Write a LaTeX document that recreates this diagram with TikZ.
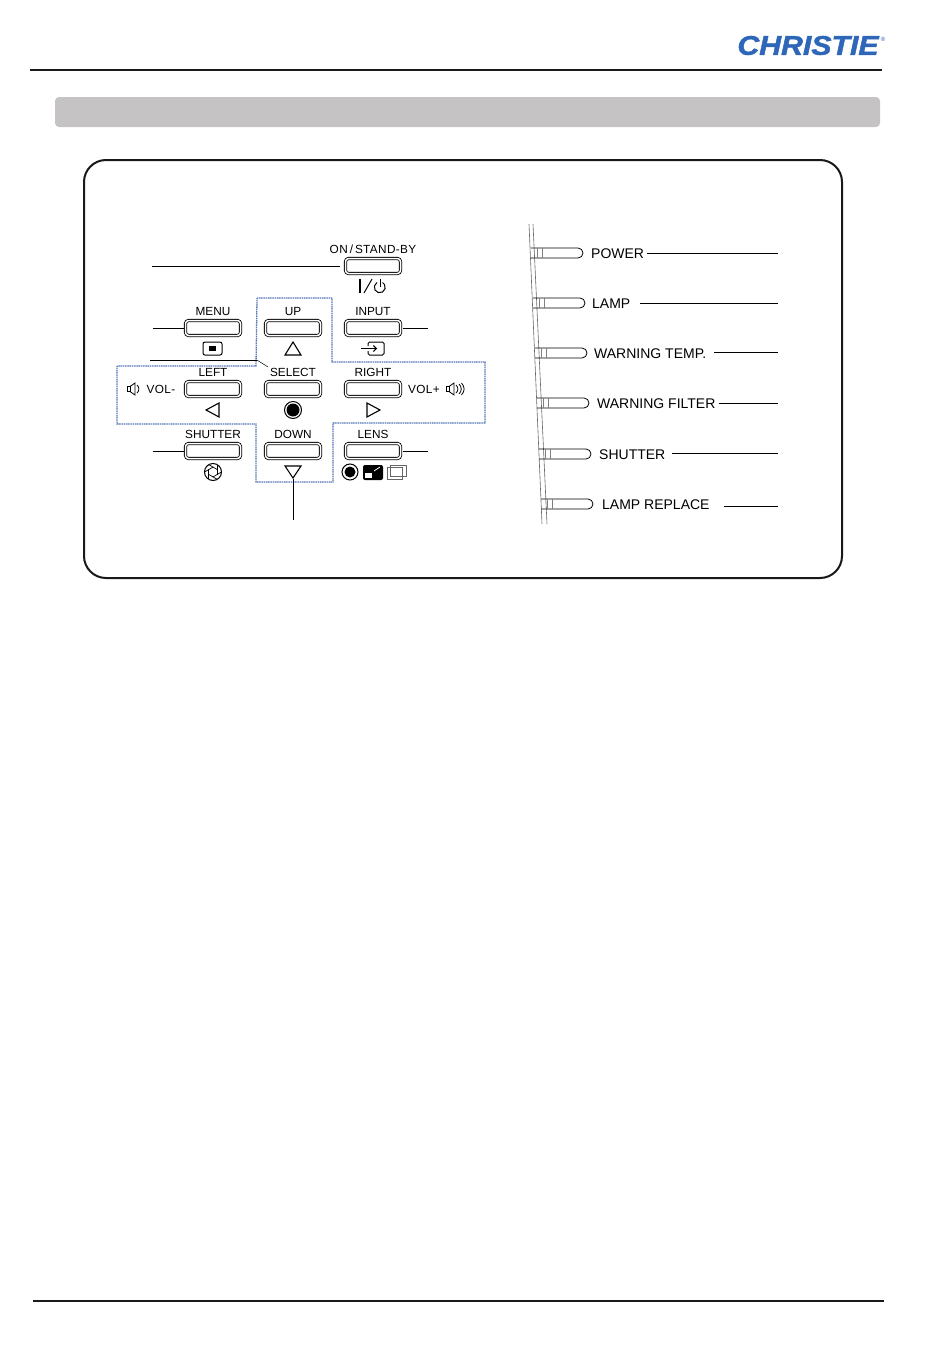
\documentclass[tikz,border=0pt]{standalone}
\usepackage{fontspec}
\usetikzlibrary{arrows.meta}
\setmainfont{Liberation Sans}
\newfontfamily\logofont[FakeBold=1.6]{Liberation Sans}
\definecolor{logoblue}{HTML}{2E66B8}
\definecolor{barfill}{HTML}{C5C3C4}
\definecolor{crossblue}{HTML}{5A78B8}
\definecolor{wallgray}{HTML}{666666}
\tikzset{
  ctrlbtn/.style={draw=black,double=white,double distance=1.5pt,line width=0.8pt,rounded corners=3pt,
    minimum width=55pt,minimum height=15pt,inner sep=0pt,outer sep=2pt},
  btnlabel/.style={font=\fontsize{11.8}{12}\selectfont,inner sep=0pt},
  ledlabel/.style={font=\fontsize{14}{14}\selectfont,anchor=west,inner sep=3pt},
  leader/.style={line width=0.9pt,black},
  icon/.style={line width=1pt,black},
  speaker/.pic={
    \draw[icon,line width=0.8pt] (0,-2.5) rectangle (3,2.5);
    \draw[icon,line width=0.8pt] (3,-2.5) -- (8,-6) -- (8,6) -- (3,2.5);
    \draw[icon,line width=0.8pt] (10,-4) .. controls (12.5,-2) and (12.5,2) .. (10,4);
  }
}
\begin{document}
\begin{tikzpicture}[x=1pt,y=-1pt]
  \useasboundingbox (0,0) rectangle (950,1357);
  % page furniture
  \draw[line width=1.6pt,black!90] (30,70) -- (882,70);
  \draw[line width=1.6pt,black!90] (33,1301) -- (884,1301);
  \node (logo) at (808,45.5) {\color{logoblue}\logofont\fontsize{27}{27}\selectfont\bfseries\itshape\scalebox{1.12}[1]{CHRISTIE}};
  \node[inner sep=0pt] (logoreg) at (883,39) {\color{logoblue}\fontsize{6}{6}\selectfont ®};
  \fill[barfill,rounded corners=4pt] (55,97) rectangle (880,127);
  \draw[line width=2pt,black!90,rounded corners=22pt] (84,160) rectangle (842,578);
  % dotted cross behind the keys
  \draw[crossblue,line width=1.3pt,dash pattern=on 1.2pt off 0.6pt] (257,298) -- (332,298) -- (332,362) -- (485,362) -- (485,423)
    -- (333,423) -- (333,482) -- (256,482) -- (256,424) -- (117,424) -- (117,366) -- (256,366) -- cycle;
  % keys
  \foreach \name/\x/\y/\txt in {menu/213/328/MENU,up/293/328/UP,input/373/328/INPUT,
      left/213/389/LEFT,select/293/389/SELECT,right/373/389/RIGHT,
      shutter/213/451/SHUTTER,down/293/451/DOWN,lens/373/451/LENS}{
    \node[ctrlbtn] (\name btn) at (\x,\y) {};
    \node[btnlabel] (\name lbl) at (\x,\y-17) {\txt};
  }
  \node[ctrlbtn] (onbtn) at (373,266) {};
  \node[btnlabel] (onlbl) at (373,249) {\addfontfeature{LetterSpace=3}ON\,/\,STAND-BY};
  \node[btnlabel] (vollbl) at (161,389) {\addfontfeature{LetterSpace=3}VOL-};
  \node[btnlabel] (volrlbl) at (424,389) {\addfontfeature{LetterSpace=3}VOL+};
  % leaders
  \coordinate (onend) at (152,266);
  \coordinate (menuend) at (153,328);
  \coordinate (inputend) at (428,328);
  \coordinate (shutterend) at (153,451);
  \coordinate (lensend) at (428,451);
  \coordinate (selectend) at (150,360);
  \coordinate (selectbend) at (257,360);
  \coordinate (selecttip) at (268,367);
  \coordinate (downtip) at (293,479);
  \coordinate (downend) at (293,520);
  \draw[leader,shorten >=4pt] (onend) -- (onbtn);
  \draw[leader] (menuend) -- (menubtn);
  \draw[leader] (inputbtn) -- (inputend);
  \draw[leader] (shutterend) -- (shutterbtn);
  \draw[leader] (lensbtn) -- (lensend);
  \draw[leader] (selectend) -- (selectbend);
  \draw[line width=0.5pt] (selectbend) -- (selecttip);
  \draw[leader] (downtip) -- (downend);
  % key symbols
  \draw[icon,line width=1.3pt] (360,279) -- (360,293);
  \draw[icon] (364,293) -- (372,279);
  \draw[icon] (377,282.5) arc[start angle=-120,end angle=-420,radius=5.5] ;
  \draw[icon] (380,279) -- (380,287);
  \draw[icon,rounded corners=2pt] (203,342) rectangle (222,355);
  \fill (209,346) rectangle (216,351);
  \draw[icon,rounded corners=1.5pt] (368,346) -- (368,342) -- (384,342) -- (384,355) -- (368,355) -- (368,351);
  \draw[icon,-{Straight Barb[length=3pt]}] (361,348.5) -- (377,348.5);
  \draw[icon,line width=1.1pt,line join=miter] (285,355) -- (301,355) -- (293,342) -- cycle;
  \draw[icon,line width=1.1pt,line join=miter] (206,410) -- (219,403) -- (219,417) -- cycle;
  \draw[icon,line width=1.1pt,line join=miter] (367,403) -- (380,410) -- (367,417) -- cycle;
  \draw[icon,line width=1.1pt,line join=miter] (285,466) -- (301,466) -- (293,478) -- cycle;
  \draw[icon] (293,410) circle (8.5);
  \fill (293,410) circle (6.5);
  \draw[icon] (213,472) circle (8.5);
  \foreach \a in {0,60,...,300}{
    \draw[line width=0.7pt] (\a:8.5) ++(213,472) -- ++(\a+150:10);
  }
  \pic at (127,389) {speaker};
  \pic at (446,389) {speaker};
  \draw[icon,line width=0.8pt] (459,384) .. controls (462,387) and (462,391) .. (459,394);
  \draw[icon,line width=0.8pt] (461.5,383) .. controls (465,387) and (465,391) .. (461.5,395);
  \draw[icon] (350,472) circle (8);
  \fill (350,472) circle (5.5);
  \fill[rounded corners=2pt] (363,465) rectangle (383,480);
  \fill[white] (365,473) rectangle (372,478);
  \draw[white,line width=0.8pt] (374,471) -- (380,467);
  \draw[line width=0.7pt,black!60] (387,467) rectangle (402,479);
  \draw[line width=0.7pt,black!60] (390,465) rectangle (406,476);
  % lamp panel
  \draw[wallgray,line width=0.6pt] (529,224) -- (542,524);
  \draw[wallgray,line width=0.6pt] (533,224) -- (547,524);
  \foreach \name/\x/\y/\lx/\endy/\gap/\txt in {power/531/253/591/253/0/POWER,lamp/533/303/592/303/6/LAMP,
      temp/535/353/594/352/5/WARNING TEMP.,filter/537/403/597/403/0/WARNING FILTER,
      shut/539/454/599/453/3/SHUTTER,replace/541/504/602/506/11/LAMP REPLACE}{
    \draw[line width=0.8pt] (\x,\y-5) -- (\x+47,\y-5) arc[start angle=-90,end angle=90,radius=5] -- (\x,\y+5);
    \draw[line width=0.4pt,black!50] (\x+6,\y-5) -- (\x+6,\y+5);
    \draw[line width=0.4pt,black!50] (\x+11,\y-5) -- (\x+11,\y+5);
    \node[ledlabel] (\name lbl) at (\lx-3,\y+1) {\txt};
    \coordinate (\name end) at (778,\endy);
    \draw[leader,shorten <=\gap pt] (\name lbl.east |- \name end) -- (\name end);
  }
\end{tikzpicture}
\end{document}
